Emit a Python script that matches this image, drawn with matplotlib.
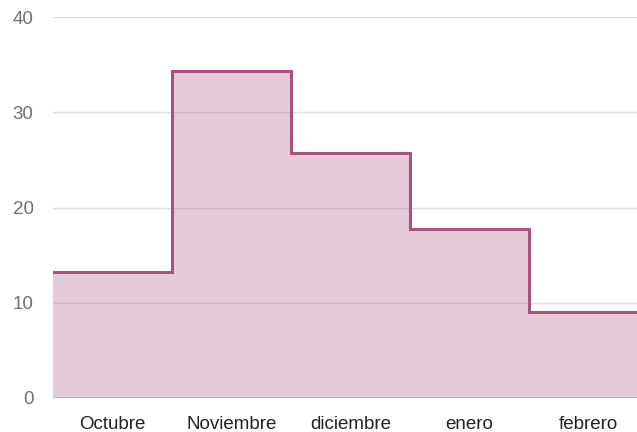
import numpy as np
import matplotlib as mpl

mpl.use('Agg')
import matplotlib.pyplot as plt

months = ["Octubre", "Noviembre", "diciembre", "enero", "febrero"]
values = [13.2, 34.3, 25.7, 17.7, 9.05]
y_ticks = [0, 10, 20, 30, 40]

line_color = "#a9517f"
fill_color = "#a9517f"

plt.rcParams['font.family'] = ['Liberation Sans', 'DejaVu Sans']

fig = plt.figure(figsize=(6.37, 4.32), dpi=100)
ax = fig.add_axes([53 / 637, 1 - 398 / 432, 1 - 53 / 637, (398 - 17) / 432])

x = np.arange(len(values) + 1)
y = values + [values[-1]]

ax.fill_between(x, y, step='post', color=fill_color, alpha=0.3, linewidth=0, zorder=2)
ax.step(x, y, where='post', color=line_color, linewidth=2.2, zorder=3,
        solid_joinstyle='miter')

for t in y_ticks[1:]:
    ax.axhline(t, color="#e0e0e0", linewidth=1, zorder=1)
ax.axhline(0, color="#b0b0b0", linewidth=1.2, zorder=4)

ax.set_xlim(0, (637 - 53) / 119)
ax.set_ylim(0, 40)
ax.set_yticks(y_ticks)
ax.set_yticklabels([str(t) for t in y_ticks], color="#707070", fontsize=13.5)
ax.set_xticks(np.arange(len(months)) + 0.5)
ax.set_xticklabels(months, color="#222222", fontsize=13.5)
ax.tick_params(axis='both', length=0)
ax.tick_params(axis='y', pad=14)
ax.tick_params(axis='x', pad=13)
for s in ax.spines.values():
    s.set_visible(False)

fig.savefig("out.png", dpi=100)
